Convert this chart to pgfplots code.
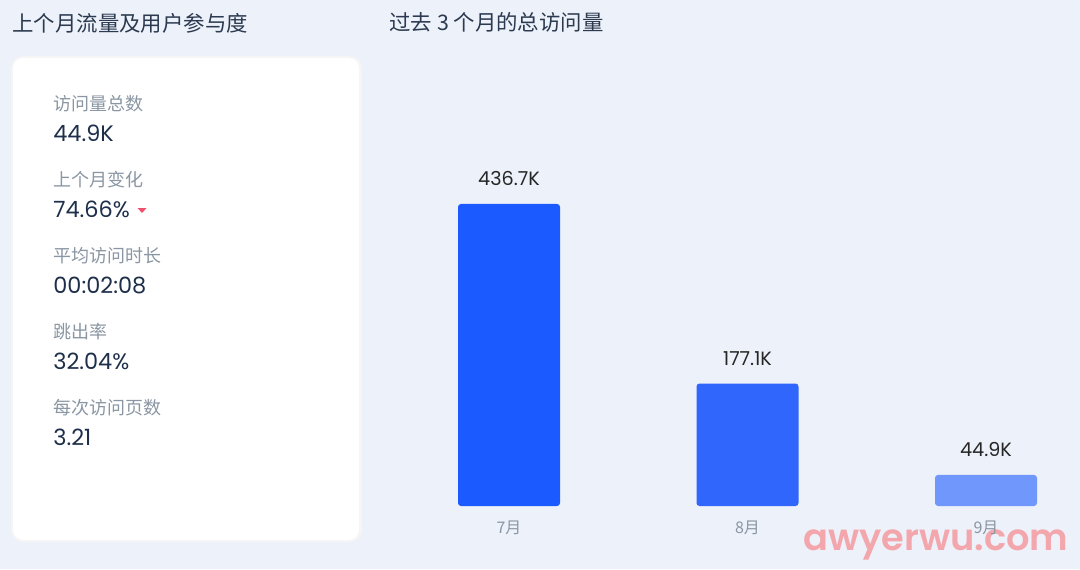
\documentclass[border=0pt]{standalone}
\usepackage{fontspec}
\usepackage{pgfplots}
\pgfplotsset{compat=1.18}
\setmainfont{Noto Sans CJK SC}
\newfontfamily\numfont{Poppins}
\newfontfamily\wmfont{Poppins}[UprightFont=* SemiBold, BoldFont=* Bold]
\definecolor{bg}{HTML}{EDF1FA}
\definecolor{titlec}{HTML}{2B3A4F}
\definecolor{labc}{HTML}{8A96A3}
\definecolor{valc}{HTML}{1D2F4A}
\definecolor{barA}{HTML}{1B5AFF}
\definecolor{barB}{HTML}{3166FD}
\definecolor{barC}{HTML}{7097FC}
\definecolor{wm}{HTML}{F3A6AC}
\definecolor{redc}{HTML}{F0506E}
\begin{document}
\begin{tikzpicture}
\begin{scope}[x=0.5pt,y=0.5pt]
% background (pixel coordinates, y from bottom)
\fill[bg] (0,0) rectangle (1080,569);
% card shadow + card
\fill[black!4,rounded corners=6pt] (11,27) rectangle (362,513);
\fill[white,rounded corners=5pt] (13,29) rectangle (359,511);
% titles
\node[anchor=west,inner sep=0pt,text=titlec,font=\fontsize{10.7pt}{12pt}\selectfont] at (12,546) {上个月流量及用户参与度};
\node[anchor=west,inner sep=0pt,text=titlec,font=\fontsize{10.7pt}{12pt}\selectfont] at (389,547) {过去 3 个月的总访问量};
% card content
\foreach \lab/\val/\yy in {访问量总数/44.9K/0, 上个月变化/74.66\%/76, 平均访问时长/00:02:08/152, 跳出率/32.04\%/228, 每次访问页数/3.21/304}{
  \node[anchor=west,inner sep=0pt,text=labc,font=\fontsize{9pt}{11pt}\selectfont] at (53,465-\yy) {\lab};
  \node[anchor=west,inner sep=0pt,text=valc,font=\numfont\fontsize{11.2pt}{13pt}\selectfont] at (53,436-\yy) {\val};
}
\fill[redc] (137.5,361) -- (146.5,361) -- (142,356) -- cycle;
% watermark
\node[anchor=west,inner sep=0pt,text=wm,font=\wmfont\fontsize{18.4pt}{21pt}\selectfont] at (803,24) {awyerwu.com};
\end{scope}
% chart
\begin{axis}[
  at={(194.875pt,31.5pt)}, anchor=south west,
  scale only axis, width=333.9pt, height=172.9pt,
  xmin=-0.5, xmax=2.3, ymin=0, ymax=500,
  axis line style={draw=none}, major tick length=0pt,
  ytick=\empty, xtick={0,1,2}, xticklabels={7月,8月,9月},
  xticklabel style={anchor=north,inner sep=0pt,yshift=-7pt,text=labc,font=\fontsize{8pt}{10pt}\selectfont},
  ybar, bar width=51pt, clip=false,
  every node near coord/.append style={anchor=base,inner sep=0pt,yshift=9pt,text=black!85,font=\numfont\fontsize{9.6pt}{11pt}\selectfont},
]
\addplot[fill=barA,draw=none,bar shift=0pt,rounded corners=1.5pt,nodes near coords={436.7K}] coordinates {(0,436.7)};
\addplot[fill=barB,draw=none,bar shift=0pt,rounded corners=1.5pt,nodes near coords={177.1K}] coordinates {(1,177.1)};
\addplot[fill=barC,draw=none,bar shift=0pt,rounded corners=1.5pt,nodes near coords={44.9K}] coordinates {(2,44.9)};
\end{axis}
\end{tikzpicture}
\end{document}
